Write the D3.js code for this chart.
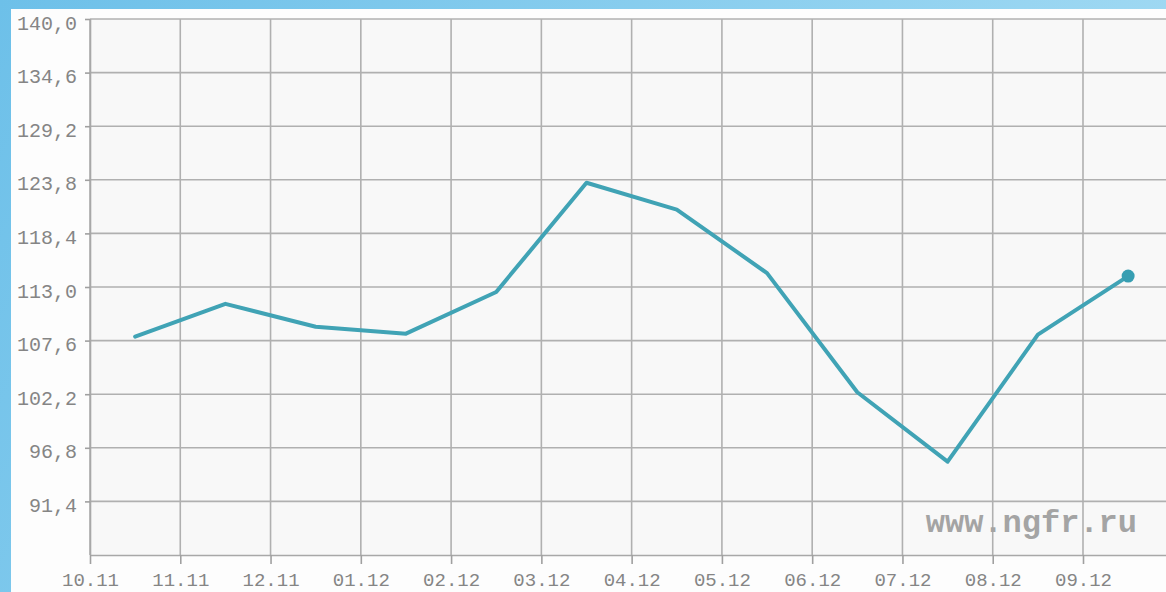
<!DOCTYPE html>
<html>
<head>
<meta charset="utf-8">
<script src="https://cdn.jsdelivr.net/npm/d3@7"></script>
<style>
html,body{margin:0;padding:0;overflow:hidden;}
svg{display:block;}
</style>
</head>
<body>
<svg id="chart" width="1166" height="592"></svg>
<script>
// ---- data ----
const months = ["10.11","11.11","12.11","01.12","02.12","03.12","04.12","05.12","06.12","07.12","08.12","09.12"];
const values = [108.0, 111.3, 109.0, 108.3, 112.5, 123.5, 120.8, 114.4, 102.4, 95.4, 108.2, 114.1];
const yTickValues = [91.4, 96.8, 102.2, 107.6, 113.0, 118.4, 123.8, 129.2, 134.6, 140.0];
const yTickLabels = ["91,4","96,8","102,2","107,6","113,0","118,4","123,8","129,2","134,6","140,0"];
const watermark = "www.ngfr.ru";

(function(){
const W = 1166, H = 592;
const svg = d3.select("#chart");
const defs = svg.append("defs");
const grad = defs.append("linearGradient").attr("id","bg").attr("x1","0").attr("y1","0").attr("x2","1").attr("y2","0.3");
grad.append("stop").attr("offset","0").attr("stop-color","#6dc0e9");
grad.append("stop").attr("offset","1").attr("stop-color","#a2daf3");
svg.append("rect").attr("width",W).attr("height",H).attr("fill","url(#bg)");

// panel
svg.append("rect").attr("x",11).attr("y",9).attr("width",W-11).attr("height",H-9).attr("fill","#fdfdfd");

const pLeft = 90, pTop = 19, pBottom = 555;
const step = (1083 - 90) / 11;
const x = d3.scaleLinear().domain([0, 12]).range([pLeft, pLeft + 12*step]);
const y = d3.scaleLinear().domain([86, 140]).range([pBottom, pTop]);

svg.append("rect").attr("x",pLeft).attr("y",pTop).attr("width",W-pLeft).attr("height",pBottom-pTop).attr("fill","#f8f8f8");

const font = "'Liberation Mono', 'DejaVu Sans Mono', monospace";

// grid lines
const grid = svg.append("g").attr("stroke","#b0b0b0").attr("stroke-width",1.6);
grid.selectAll("line.h").data(yTickValues).enter().append("line")
  .attr("x1",pLeft).attr("x2",W).attr("y1",d=>y(d)).attr("y2",d=>y(d));
grid.selectAll("line.v").data(d3.range(months.length)).enter().append("line")
  .attr("x1",d=>x(d)).attr("x2",d=>x(d)).attr("y1",pTop).attr("y2",pBottom);

// x axis
const xAxis = d3.axisBottom(x).tickValues(d3.range(months.length)).tickFormat(i=>months[i]).tickSize(9).tickPadding(9);
const gx = svg.append("g").attr("transform",`translate(0,${pBottom})`).call(xAxis);
gx.select(".domain").attr("d",`M${pLeft},0.5H${W}`).attr("stroke","#a8a8a8").attr("stroke-width",1.6);
gx.selectAll(".tick line").attr("stroke","#a0a0a0").attr("stroke-width",1.6);
gx.selectAll(".tick text").attr("fill","#858585").style("font-family",font).style("font-size","19px");

// y axis
const yAxis = d3.axisLeft(y).tickValues(yTickValues).tickFormat((d,i)=>yTickLabels[i]).tickSize(5).tickPadding(8);
const gy = svg.append("g").attr("transform",`translate(${pLeft},0)`).call(yAxis);
gy.select(".domain").attr("d",`M0.5,${pTop}V${pBottom}`).attr("stroke","#a8a8a8").attr("stroke-width",1.6);
gy.selectAll(".tick line").attr("stroke","#a0a0a0").attr("stroke-width",1.6);
gy.selectAll(".tick text").attr("fill","#858585").attr("dy","0.5em").style("font-family",font).style("font-size","20px");

// watermark
svg.append("text").attr("x",1137).attr("y",532).attr("text-anchor","end")
  .attr("fill","#a4a4a4").style("font-family","'Liberation Mono', 'Courier New', monospace")
  .style("font-weight","bold").style("font-size","32px").text(watermark);

// line
const line = d3.line().x((d,i)=>x(i+0.5)).y(d=>y(d));
svg.append("path").datum(values).attr("d",line).attr("fill","none")
  .attr("stroke","#40a3b5").attr("stroke-width",4).attr("stroke-linejoin","round").attr("stroke-linecap","round");

// end marker
svg.append("circle").attr("cx",x(values.length-0.5)).attr("cy",y(values[values.length-1])).attr("r",6.5).attr("fill","#379eb2");
})();
</script>
</body>
</html>
